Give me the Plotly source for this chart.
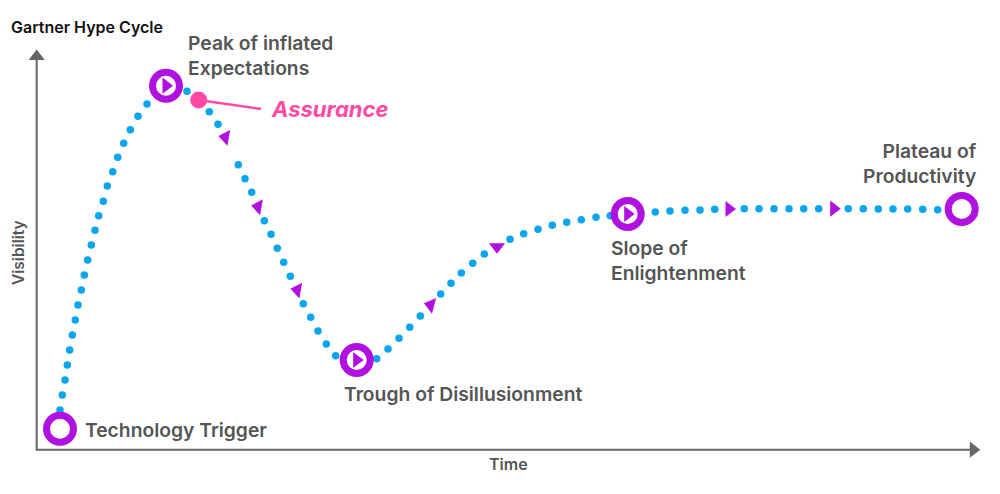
import plotly.graph_objects as go

dots_x = [60, 62.3, 65, 67.3, 69.7, 72.3, 75.3, 78, 81.3, 84.3, 87.7, 91.3, 95, 98.7, 103.3,
          107.3, 112.7, 117.7, 123.7, 130.3, 138, 147, 187, 209.3, 218, 238.3, 245, 251.7,
          264.3, 271, 277.3, 283.7, 290.3, 303.3, 310.7, 318, 326.3, 335.7, 376.7, 388, 399,
          409.7, 420.3, 440.7, 451, 461.3, 472.7, 484.3, 510, 523.7, 538, 552.3, 566.7,
          581.3, 596, 610.3, 655.3, 670, 685, 700, 714.7, 744.3, 759, 774, 789, 803.7, 818.7,
          848.3, 863.3, 878.3, 893, 907.7, 922.7, 937.7]
dots_y = [410, 395, 380, 365, 350, 335, 320, 305, 290, 275, 260, 245, 230.3, 215.7, 201.3,
          186, 171.7, 157.3, 143.3, 129.7, 116.3, 104, 91.3, 111.7, 124.3, 164.7, 178.7, 192.3,
          220.7, 234.3, 248.3, 262.3, 276.3, 303.7, 317.3, 331, 344, 355.7, 358.7, 349, 338.3,
          327.3, 316, 294, 283.3, 273, 263.3, 254, 239.3, 233.7, 229.3, 225.3, 222.3,
          219.7, 217.3, 215.7, 212, 211, 210.3, 210, 209.3, 208.7, 208.7, 208.7, 208.7, 208.7, 208.7,
          208.7, 208.7, 209, 209, 209, 209.3, 209.7]

# phase markers on the curve
stage_x = [60, 166, 356.7, 627.7, 961.7]
stage_y = [428.7, 85.7, 360, 214, 209]
play_x = [166, 356.7, 627.7]
play_y = [85.7, 360, 214]

arrow_x = [225.3, 258, 297.3, 430.7, 497, 729, 833.7]
arrow_y = [137.3, 206.7, 290, 305, 246.7, 209, 208.7]
arrow_angle = [-80, -80, -80, -75, 180, 90, 90]

assurance_x = [198.7, 261]
assurance_y = [100, 109]

axis_x = [36.7, 36.7, 970]
axis_y = [58, 449.7, 449.7]
axis_tip_x = [36.7, 973.3]
axis_tip_y = [56.5, 449.7]
axis_tip_angle = [0, 90]

labels = ["Peak of inflated<br>Expectations", "Plateau of<br>Productivity",
          "Slope of<br>Enlightenment", "Trough of Disillusionment", "Technology Trigger"]
labels_x = [186, 979, 609, 342, 83]
labels_y = [55, 163.5, 260, 394, 430]
labels_anchor = ["left", "right", "left", "left", "left"]

PURPLE = "#b010e0"
BLUE = "#0aa5f0"
PINK = "#ff4aa5"
GREY = "#555555"
FONT = "Inter"

fig = go.Figure()
fig.add_trace(go.Scatter(x=axis_x, y=axis_y, mode="lines", line=dict(color="#666666", width=2)))
fig.add_trace(go.Scatter(x=axis_tip_x, y=axis_tip_y, mode="markers",
                         marker=dict(symbol="triangle-up", size=14, color="#666666", angle=axis_tip_angle)))
fig.add_trace(go.Scatter(x=dots_x, y=dots_y, mode="markers", marker=dict(size=7.5, color=BLUE)))
fig.add_trace(go.Scatter(x=arrow_x, y=arrow_y, mode="markers",
                         marker=dict(symbol="triangle-up", size=14, color=PURPLE, angle=arrow_angle)))
fig.add_trace(go.Scatter(x=stage_x, y=stage_y, mode="markers",
                         marker=dict(size=27, color="white", line=dict(color=PURPLE, width=7))))
fig.add_trace(go.Scatter(x=play_x, y=play_y, mode="markers",
                         marker=dict(symbol="triangle-right", size=14, color=PURPLE)))
fig.add_trace(go.Scatter(x=assurance_x, y=assurance_y, mode="lines", line=dict(color=PINK, width=2.5)))
fig.add_trace(go.Scatter(x=assurance_x[:1], y=assurance_y[:1], mode="markers", marker=dict(size=17, color=PINK)))

for text, x, y, anchor in zip(labels, labels_x, labels_y, labels_anchor):
    fig.add_annotation(x=x, y=y, text=text, showarrow=False, xanchor=anchor, yanchor="middle", align=anchor,
                       font=dict(family=FONT, size=19.3, color=GREY, weight=600))

fig.add_annotation(x=269, y=109, text="<i>Assurance</i>", showarrow=False, xanchor="left", yanchor="middle",
                   font=dict(family=FONT, size=22, color=PINK, weight=700))
fig.add_annotation(x=9, y=27, text="Gartner Hype Cycle", showarrow=False, xanchor="left", yanchor="middle",
                   font=dict(family=FONT, size=16, color="#111111", weight=600))
fig.add_annotation(x=508, y=464, text="Time", showarrow=False, font=dict(family=FONT, size=16, color=GREY, weight=600))
fig.add_annotation(x=18, y=253, text="Visibility", showarrow=False, textangle=-90,
                   font=dict(family=FONT, size=15.5, color=GREY, weight=600))

fig.update_layout(width=1000, height=494, margin=dict(l=0, r=0, t=0, b=0), showlegend=False,
                  plot_bgcolor="white", paper_bgcolor="white",
                  xaxis=dict(range=[0, 1000], visible=False),
                  yaxis=dict(range=[494, 0], visible=False))
fig.write_html("out.html", config=dict(displayModeBar=False), post_script="document.body.style.margin='0';")
